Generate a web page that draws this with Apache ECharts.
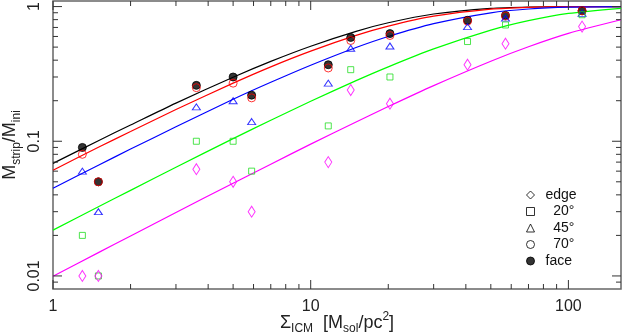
<!DOCTYPE html>
<html><head><meta charset="utf-8">
<script src="https://cdn.jsdelivr.net/npm/echarts@6/dist/echarts.min.js"></script>
<style>html,body{margin:0;padding:0;background:#fff}#c{width:622px;height:336px}</style>
</head><body><div id="c"></div>
<script>
// measured points
const sigma = [1.3, 1.5, 3.6, 5.0, 5.9, 11.7, 14.3, 20.3, 40.6, 57, 113];
const face  = [0.090, 0.050, 0.26, 0.30, 0.22, 0.37, 0.59, 0.63, 0.79, 0.86, 0.93];
const deg70 = [0.080, 0.050, 0.25, 0.27, 0.21, 0.35, 0.56, 0.61, 0.78, 0.85, 0.93];
const deg45 = [0.060, 0.030, 0.18, 0.20, 0.14, 0.27, 0.49, 0.51, 0.71, 0.82, 0.89];
const deg20 = [0.020, 0.010, 0.10, 0.10, 0.06, 0.13, 0.34, 0.30, 0.55, 0.73, 0.87];
const edge  = [0.010, 0.010, 0.062, 0.050, 0.030, 0.070, 0.24, 0.19, 0.37, 0.53, 0.71];

// model curves
const curveX     = [1, 1.5, 2, 3, 5, 7, 10, 15, 20, 30, 50, 70, 100, 160];
const curveFace  = [0.0685, 0.101, 0.132, 0.192, 0.299, 0.392, 0.508, 0.655, 0.758, 0.881, 0.971, 0.993, 0.999, 1.000];
const curve70    = [0.061, 0.0902, 0.118, 0.172, 0.270, 0.357, 0.467, 0.611, 0.716, 0.849, 0.957, 0.988, 0.998, 1.000];
const curve45    = [0.0448, 0.0664, 0.0875, 0.128, 0.205, 0.274, 0.367, 0.497, 0.600, 0.747, 0.899, 0.959, 0.990, 0.999];
const curve20    = [0.0219, 0.0326, 0.0432, 0.0642, 0.1046, 0.1433, 0.198, 0.282, 0.357, 0.485, 0.669, 0.787, 0.890, 0.971];
const curveEdge  = [0.00995, 0.0149, 0.0198, 0.0296, 0.0488, 0.0676, 0.0952, 0.139, 0.181, 0.259, 0.393, 0.503, 0.632, 0.798];

// ticks
const xMajor = [1, 10, 100];
const xMajorLabels = ['1', '10', '100'];
const xMinor = [2, 3, 4, 5, 6, 7, 8, 9, 20, 30, 40, 50, 60, 70, 80, 90];
const yMajor = [0.01, 0.1, 1];
const yMajorLabels = ['0.01', '0.1', '1'];
const yMinor = [0.009, 0.02, 0.03, 0.04, 0.05, 0.06, 0.07, 0.08, 0.09, 0.2, 0.3, 0.4, 0.5, 0.6, 0.7, 0.8, 0.9];

const FONT = 'Liberation Sans, Arial, sans-serif';
const TICK = '#333';

function pairs(xs, ys) { return xs.map((x, i) => [x, ys[i]]); }
function labelFor(majors, labels) {
  return function (v) {
    for (let i = 0; i < majors.length; i++) {
      if (Math.abs(v - majors[i]) / majors[i] < 1e-6) return labels[i];
    }
    return '';
  };
}
function xTicks(len) {
  return function (params, api) {
    const cs = params.coordSys;
    const x = api.coord([api.value(0), 0.1])[0];
    const b = cs.y + cs.height, t = cs.y;
    return { type: 'group', children: [
      { type: 'line', shape: { x1: x, y1: b, x2: x, y2: b - len }, style: { stroke: TICK, lineWidth: 1 } },
      { type: 'line', shape: { x1: x, y1: t, x2: x, y2: t + len }, style: { stroke: TICK, lineWidth: 1 } }
    ]};
  };
}
function yTicks(len) {
  return function (params, api) {
    const cs = params.coordSys;
    const y = api.coord([10, api.value(1)])[1];
    const l = cs.x, r = cs.x + cs.width;
    return { type: 'group', children: [
      { type: 'line', shape: { x1: l, y1: y, x2: l + len, y2: y }, style: { stroke: TICK, lineWidth: 1 } },
      { type: 'line', shape: { x1: r, y1: y, x2: r - len, y2: y }, style: { stroke: TICK, lineWidth: 1 } }
    ]};
  };
}
function tickSeries(data, fn) {
  return { type: 'custom', coordinateSystem: 'cartesian2d', silent: true, clip: false, z: 5,
    renderItem: fn, data: data, tooltip: { show: false } };
}
function lineSeries(name, ys, color) {
  return { type: 'line', name: name + ' fit', data: pairs(curveX, ys), showSymbol: false, smooth: 0.25,
    lineStyle: { color: color, width: 1.2 }, itemStyle: { color: color }, z: 2, silent: true };
}
function scatter(name, ys, symbol, size, color, filled) {
  return { type: 'scatter', name: name, data: pairs(sigma, ys), symbol: symbol, symbolSize: size, z: 3,
    itemStyle: { color: filled ? color : 'rgba(0,0,0,0)', borderColor: color, borderWidth: 1 } };
}

const chart = echarts.init(document.getElementById('c'), null, { renderer: 'canvas' });
chart.setOption({
  animation: false,
  backgroundColor: '#fff',
  grid: { left: 53, right: 1, top: 1, bottom: 47, containLabel: false, outerBoundsMode: 'none',
    show: true, borderColor: '#666', borderWidth: 1.5, backgroundColor: 'transparent' },
  xAxis: {
    type: 'log', logBase: 10, min: 1, max: 160,
    axisLine: { show: false }, axisTick: { show: false }, splitLine: { show: false }, minorTick: { show: false },
    axisLabel: { formatter: labelFor(xMajor, xMajorLabels), color: '#222', fontSize: 16, fontFamily: FONT, margin: 10 },
    name: '{m|Σ}{s|ICM}{m|  [M}{s|sol}{m|/pc}{p|2}{m|]}',
    nameLocation: 'middle', nameGap: 22, nameMoveOverlap: false,
    nameTextStyle: { color: '#222', fontFamily: FONT,
      rich: {
        m: { fontSize: 18, fontFamily: FONT, color: '#222', lineHeight: 24, verticalAlign: 'middle' },
        s: { fontSize: 12, fontFamily: FONT, color: '#222', verticalAlign: 'bottom' },
        p: { fontSize: 12, fontFamily: FONT, color: '#222', verticalAlign: 'top' }
      } }
  },
  yAxis: {
    type: 'log', logBase: 10, min: 0.008, max: 1.1,
    axisLine: { show: false }, axisTick: { show: false }, splitLine: { show: false }, minorTick: { show: false },
    axisLabel: { formatter: labelFor(yMajor, yMajorLabels), color: '#222', fontSize: 16, fontFamily: FONT, margin: 10, rotate: 90 },
    name: '{m|M}{s|strip}{m|/M}{s|ini}',
    nameLocation: 'middle', nameGap: 30, nameRotate: 90, nameMoveOverlap: false,
    nameTextStyle: { color: '#222', fontFamily: FONT,
      rich: {
        m: { fontSize: 18, fontFamily: FONT, color: '#222', lineHeight: 26, verticalAlign: 'middle' },
        s: { fontSize: 12, fontFamily: FONT, color: '#222', verticalAlign: 'bottom' }
      } }
  },
  legend: {
    orient: 'vertical', left: 526, top: 188, padding: 0, itemGap: 2.5,
    itemWidth: 8, itemHeight: 8,
    textStyle: { fontSize: 14, fontFamily: FONT, color: '#111', lineHeight: 14, padding: [0, 0, 0, 6] },
    formatter: function (n) { return n.indexOf('°') >= 0 ? '  ' + n : n; },
    data: [
      { name: 'edge', icon: 'diamond', itemStyle: { color: 'rgba(0,0,0,0)', borderColor: '#000', borderWidth: 1 } },
      { name: '20°', icon: 'rect', itemStyle: { color: 'rgba(0,0,0,0)', borderColor: '#000', borderWidth: 1 } },
      { name: '45°', icon: 'triangle', itemStyle: { color: 'rgba(0,0,0,0)', borderColor: '#000', borderWidth: 1 } },
      { name: '70°', icon: 'circle', itemStyle: { color: 'rgba(0,0,0,0)', borderColor: '#000', borderWidth: 1 } },
      { name: 'face', icon: 'circle', itemStyle: { color: '#000', borderColor: '#000', borderWidth: 1 } }
    ]
  },
  series: [
    lineSeries('face', curveFace, '#000000'),
    lineSeries('70°', curve70, '#ff0000'),
    lineSeries('45°', curve45, '#0000ff'),
    lineSeries('20°', curve20, '#00ff00'),
    lineSeries('edge', curveEdge, '#ff00ff'),
    scatter('face', face, 'circle', 8, '#000000', true),
    scatter('70°', deg70, 'circle', 8, '#ff0000', false),
    scatter('45°', deg45, 'triangle', [8, 6], '#0000ff', false),
    scatter('20°', deg20, 'rect', [6, 6], '#22dd22', false),
    scatter('edge', edge, 'diamond', [7, 11], '#ff00ff', false),
    tickSeries(xMajor.map(v => [v, 0.1]), xTicks(9)),
    tickSeries(xMinor.map(v => [v, 0.1]), xTicks(5)),
    tickSeries(yMajor.map(v => [10, v]), yTicks(9)),
    tickSeries(yMinor.map(v => [10, v]), yTicks(5))
  ]
});
</script>
</body></html>
